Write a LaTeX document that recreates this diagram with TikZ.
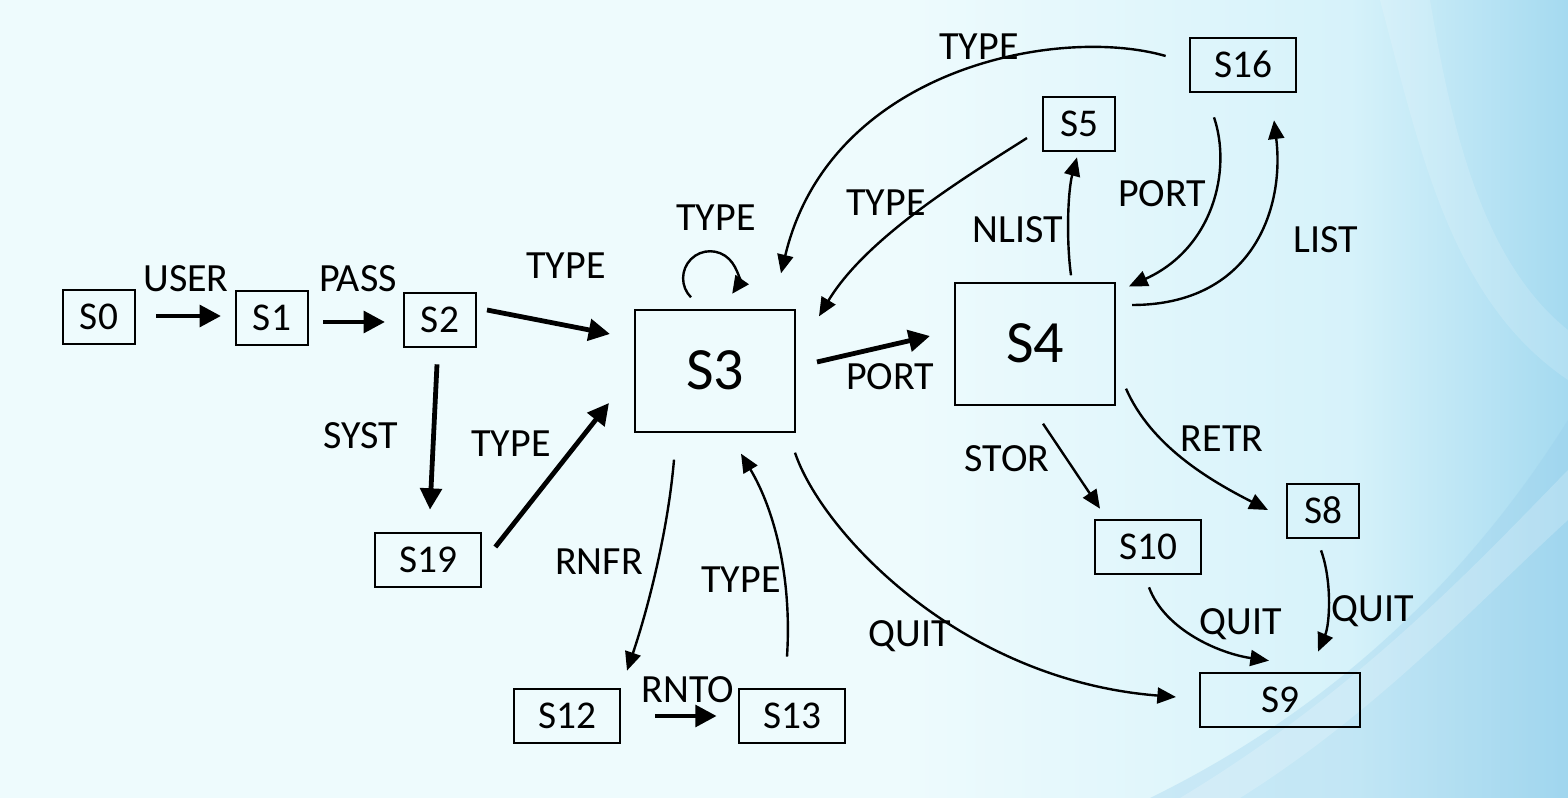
\documentclass[tikz,border=0pt]{standalone}
\usepackage{fontspec}
\setmainfont{Carlito}
\usetikzlibrary{arrows.meta,calc}
\definecolor{bgL}{RGB}{238,251,253}
\definecolor{bgM}{RGB}{214,242,250}
\definecolor{bgR}{RGB}{165,218,240}
\definecolor{bgD}{RGB}{150,205,235}
\begin{document}
\begin{tikzpicture}[x=0.75pt,y=0.75pt,
  box/.style={draw, line width=1.5pt, inner sep=0pt, minimum width=54pt, minimum height=41pt,
    font=\fontsize{29.5}{29.5}\selectfont, text height=18.6pt, text depth=0pt},
  mdbox/.style={box, minimum width=80pt},
  widebox/.style={box, minimum width=120pt},
  lgbox/.style={box, minimum width=120pt, minimum height=91pt, font=\fontsize{45}{45}\selectfont, text height=28.4pt},
  lbl/.style={inner sep=0pt, font=\fontsize{30}{30}\selectfont, text height=19pt, text depth=0pt},
  thickarr/.style={line width=3.6pt, -{Triangle[length=16pt,width=16pt]}},
  thinarr/.style={line width=1.8pt, -{Triangle[length=14pt,width=12pt]}}
]
% background
\useasboundingbox (0,0) rectangle (1568,-798);
\fill[bgL] (0,0) rectangle (1568,-798);
\shade[left color=bgL, right color=bgM] (900,0) rectangle (1350,-798);
\shade[left color=bgM, right color=bgR] (1350,0) rectangle (1568,-798);
\fill[bgD, opacity=0.3] (1150,-798) .. controls (1350,-700) and (1480,-560) .. (1568,-420) -- (1568,-798) -- cycle;
\fill[white, opacity=0.2] (1180,-798) .. controls (1360,-690) and (1480,-560) .. (1568,-470)
  -- (1568,-520) .. controls (1480,-600) and (1380,-710) .. (1240,-798) -- cycle;
\fill[white, opacity=0.15] (1380,0) .. controls (1420,-150) and (1450,-300) .. (1568,-380)
  -- (1568,-330) .. controls (1480,-260) and (1450,-120) .. (1430,0) -- cycle;

% nodes
\node[box] (S0) at (99,-317) {S0};
\node[box] (S1) at (272,-318) {S1};
\node[box] (S2) at (440,-320) {S2};
\node[mdbox] (S19) at (428,-560) {S19};
\node[lgbox] (S3) at (715,-371) {S3};
\node[lgbox] (S4) at (1035,-344) {S4};
\node[box] (S5) at (1079,-124) {S5};
\node[mdbox] (S16) at (1243,-65) {S16};
\node[mdbox] (S10) at (1148,-547) {S10};
\node[box] (S8) at (1323,-511) {S8};
\node[widebox] (S9) at (1280,-700) {S9};
\node[mdbox] (S12) at (567,-716) {S12};
\node[mdbox] (S13) at (792,-716) {S13};

% labels
\node[lbl] (lUSER) at (186,-279) {USER};
\node[lbl] (lPASS) at (358,-279) {PASS};
\node[lbl] (lTYPEa) at (566,-266) {TYPE};
\node[lbl] (lSYST) at (361,-436) {SYST};
\node[lbl] (lTYPEb) at (511,-444) {TYPE};
\node[lbl] (lTYPEc) at (716,-218) {TYPE};
\node[lbl] (lPORTa) at (890,-377) {PORT};
\node[lbl] (lNLIST) at (1018,-230) {NLIST};
\node[lbl] (lTYPEd) at (886,-203) {TYPE};
\node[lbl] (lTYPEe) at (979,-47) {TYPE};
\node[lbl] (lPORTb) at (1162,-194) {PORT};
\node[lbl] (lLIST) at (1326,-240) {LIST};
\node[lbl] (lRNFR) at (599,-562) {RNFR};
\node[lbl] (lTYPEf) at (741,-580) {TYPE};
\node[lbl] (lRNTO) at (688,-690) {RNTO};
\node[lbl] (lQUITa) at (910,-634) {QUIT};
\node[lbl] (lSTOR) at (1007,-459) {STOR};
\node[lbl] (lRETR) at (1222,-439) {RETR};
\node[lbl] (lQUITb) at (1241,-622) {QUIT};
\node[lbl] (lQUITc) at (1373,-609) {QUIT};

% thick arrows
\draw[thickarr] ($(S0.east)+(20,1)$) -- ($(S1.west)+(-14,2)$);
\draw[thickarr] ($(S1.east)+(14,-4)$) -- ($(S2.west)+(-18,-2)$);
\draw[thickarr] ($(S2.east)+(10,10)$) -- ($(S3.west)+(-24,37)$);
\draw[thickarr] ($(S2.south)+(-3,-16)$) -- ($(S19.north)+(2,22)$);
\draw[thickarr] ($(S19.east)+(13,13)$) -- ($(S3.west)+(-25,-32)$);
\draw[thickarr] ($(S3.east)+(21,9)$) -- ($(S4.west)+(-24,8)$);
\draw[thickarr] ($(S12.east)+(34,0)$) -- ($(S13.west)+(-21,0)$);

% self loop on S3
\draw[line width=1.8pt, -{Triangle[length=13pt,width=12pt]}] ($(S3.north)+(-24,12)$) arc[start angle=225, end angle=-35, radius=20.25pt];

% thin curved arrows
\draw[thinarr] ($(S4.north)+(36,7)$) .. controls +(-5,37) and +(-9,-33) .. ($(S5.south)+(-2,-5)$);
\draw[thinarr] ($(S5.west)+(-15,-14)$) .. controls +(-58,-37) and +(48,80) .. ($(S3.north east)+(23,-7)$);
\draw[thinarr] ($(S16.west)+(-23,9)$) .. controls +(-107,31) and +(49,205) .. ($(S3.north)+(66,36)$);
\draw[thinarr] ($(S16.south)+(-29,-24)$) .. controls +(18,-53) and +(84,38) .. ($(S4.north east)+(13,-4)$);
\draw[thinarr] ($(S4.east)+(16,39)$) .. controls +(119,0) and +(11,-90) .. ($(S16.south)+(31,-27)$);
\draw[thinarr] ($(S3.south)+(-41,-27)$) .. controls +(-6,-71) and +(21,62) .. ($(S12.north)+(60,17)$);
\draw[thinarr] ($(S13.north)+(-5,31)$) .. controls +(5,78) and +(34,-57) .. ($(S3.south)+(26,-21)$);
\draw[thinarr] ($(S3.south east)+(-1,-20)$) .. controls +(26,-78) and +(-217,17) .. ($(S9.west)+(-23,3)$);
\draw[thinarr] ($(S4.south)+(8,-18)$) -- ($(S10.north)+(-48,10)$);
\draw[thinarr] ($(S4.south east)+(10,17)$) .. controls +(25,-57) and +(-59,30) .. ($(S8.west)+(-18,1)$);
\draw[thinarr] ($(S10.south)+(1,-12)$) .. controls +(16,-43) and +(-49,7) .. ($(S9.north)+(-11,11)$);
\draw[thinarr] ($(S8.south)+(-2,-11)$) .. controls +(11,-30) and +(12,28) .. ($(S9.north)+(38,20)$);
\end{tikzpicture}
\end{document}
